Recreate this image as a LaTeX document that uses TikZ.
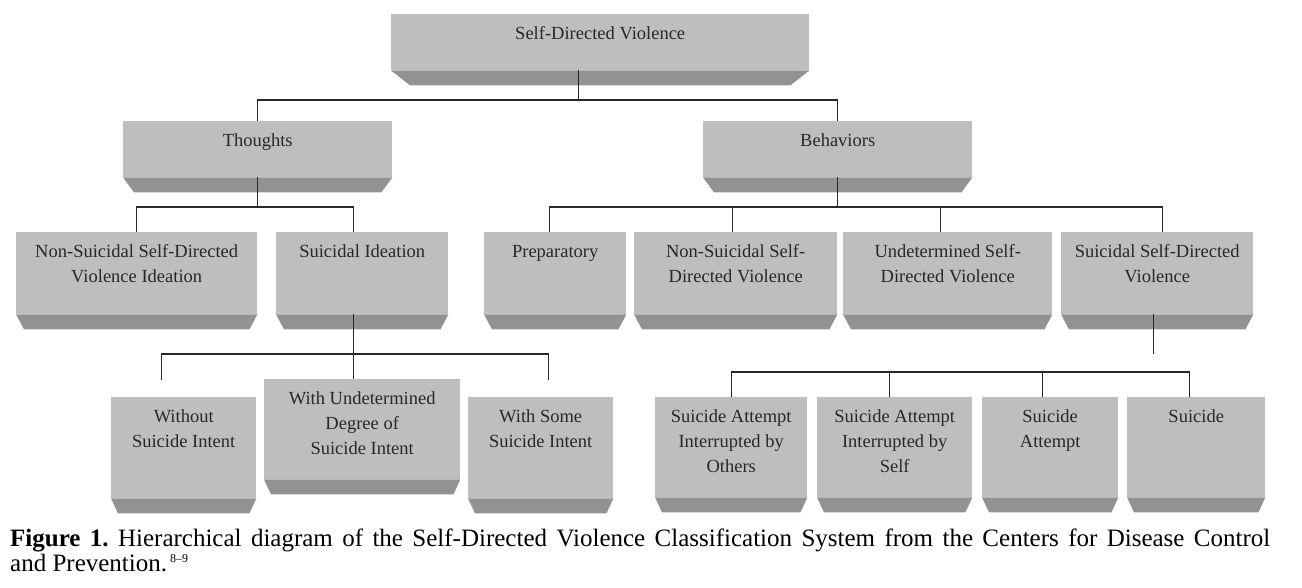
\documentclass[tikz,border=0pt]{standalone}
\usepackage{fontspec}
\setmainfont{Liberation Serif}

\definecolor{facegray}{RGB}{190,190,190}
\definecolor{bevelgray}{RGB}{146,146,146}
\definecolor{inkgray}{RGB}{40,40,40}
\newcommand{\tierfont}{\fontsize{18.5}{25}\selectfont}
\newcommand{\tiertext}[3]{\parbox[c][#2pt][t]{#1pt}{\centering\rule{0pt}{25pt}#3}}
\newcommand{\capfont}{\fontsize{25}{25}\selectfont\frenchspacing}

\begin{document}
\begin{tikzpicture}[x=1pt, y=-1pt,
  tier/.style={fill=facegray, inner sep=0pt, anchor=north west, font=\tierfont, text=inkgray},
  link/.style={draw=inkgray, line width=1.4pt}]
  \useasboundingbox (0,0) rectangle (1302,588);

  % Root
  \node[tier] (sdv) at (391,14) {\tiertext{418}{56}{Self-Directed Violence}};

  % Thoughts / Behaviors
  \node[tier] (thoughts) at (123,121) {\tiertext{269}{56}{Thoughts}};
  \node[tier] (behaviors) at (703,121) {\tiertext{269}{56}{Behaviors}};

  % Third row
  \node[tier] (nsvi) at (16,232) {\tiertext{241}{82}{Non-Suicidal Self-Directed\\Violence Ideation}};
  \node[tier] (ideation) at (276,232) {\tiertext{172}{82}{Suicidal Ideation}};
  \node[tier] (prep) at (484,232) {\tiertext{142}{82}{Preparatory}};
  \node[tier] (nssdv) at (634,232) {\tiertext{203}{82}{Non-Suicidal Self-\\Directed Violence}};
  \node[tier] (undsdv) at (843,232) {\tiertext{209}{82}{Undetermined Self-\\Directed Violence}};
  \node[tier] (ssdv) at (1061,232) {\tiertext{192}{82}{Suicidal Self-Directed\\Violence}};

  % Ideation children
  \node[tier] (without) at (111,397) {\tiertext{145}{101}{Without\\Suicide Intent}};
  \node[tier] (undet) at (264,379) {\tiertext{196}{100}{With Undetermined\\Degree of\\Suicide Intent}};
  \node[tier] (some) at (468,397) {\tiertext{145}{101}{With Some\\Suicide Intent}};

  % Suicidal behavior children
  \node[tier] (others) at (655,397) {\tiertext{152}{100}{Suicide Attempt\\Interrupted by\\Others}};
  \node[tier] (self) at (817,397) {\tiertext{155}{100}{Suicide Attempt\\Interrupted by\\Self}};
  \node[tier] (attempt) at (982,397) {\tiertext{136}{100}{Suicide\\Attempt}};
  \node[tier] (suicide) at (1127,397) {\tiertext{138}{100}{Suicide}};

  % bevelled lower edges
  \foreach \n/\d in {sdv/19,thoughts/11,behaviors/11,nsvi/8,ideation/8,prep/8,nssdv/8,undsdv/8,ssdv/8,
                     without/7,undet/7,some/7,others/7,self/7,attempt/7,suicide/7}
    \fill[bevelgray] (\n.south west) -- (\n.south east) -- ([xshift=-\d pt,yshift=-15pt]\n.south east)
      -- ([xshift=\d pt,yshift=-15pt]\n.south west) -- cycle;

  % connectors
  \draw[link] ([xshift=-22pt]sdv.south) -- ++(0,30);
  \draw[link] (thoughts.north) -- ++(0,-21) -| (behaviors.north);

  \draw[link] (thoughts.south) -- ++(0,30);
  \draw[link] (nsvi.north) -- ++(0,-25) -| ([xshift=-9pt]ideation.north);

  \draw[link] (behaviors.south) -- ++(0,30);
  \draw[link] ([xshift=-6pt]prep.north) -- ++(0,-25) -| ([xshift=5pt]ssdv.north);
  \draw[link] ([xshift=-3.5pt]nssdv.north) -- ++(0,-25);
  \draw[link] ([xshift=-7.5pt]undsdv.north) -- ++(0,-25);

  \draw[link] ([xshift=-9pt]ideation.south) -- ([xshift=-9pt]undet.north);
  \draw[link] ([xshift=-22.5pt,yshift=17pt]without.north) |- ([xshift=-9pt,yshift=25pt]undet.north)
    -| ([xshift=7.5pt,yshift=17pt]some.north);

  \draw[link] ([xshift=-4pt]ssdv.south) -- ++(0,40) coordinate (ssdvend);

  \draw[link] (others.north) |- ([xshift=-7pt,yshift=25pt]suicide.north) -- ([xshift=-7pt]suicide.north);
  \draw[link] ([xshift=-5.5pt]self.north) -- ++(0,-25);
  \draw[link] ([xshift=-8pt]attempt.north) -- ++(0,-25);

  % caption
  \node[anchor=base west, inner sep=0pt, font=\capfont] (cap1) at (10,546)
    {\makebox[1260pt][s]{\textbf{Figure 1.} Hierarchical diagram of the Self-Directed Violence Classification System from the Centers for Disease Control}};
  \node[anchor=base west, inner sep=0pt, font=\capfont] (cap2) at (10,571)
    {and Prevention.\hspace{3pt}\raisebox{9pt}{\fontsize{12}{12}\selectfont 8--9}};
\end{tikzpicture}
\end{document}
